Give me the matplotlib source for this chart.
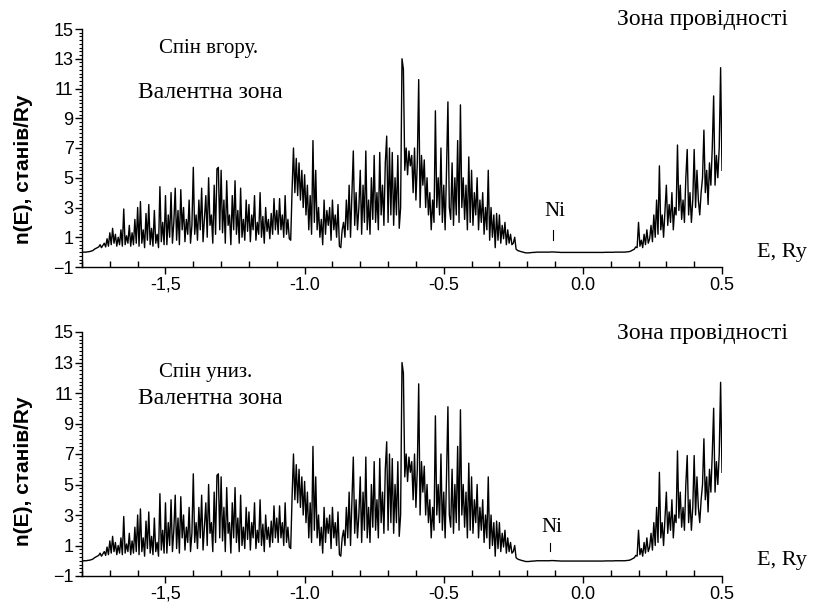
import numpy as np
import matplotlib
matplotlib.use("Agg")
import matplotlib.pyplot as plt
from matplotlib.ticker import MultipleLocator, FixedLocator

# density of states, 0.005 Ry steps from -1.8 to 0.5 Ry
dos_rows = [
    # -1.80
    [0.0, 0.0, 0.0, 0.0, 0.02, 0.03, 0.05, 0.08, 0.12, 0.2, 0.25, 0.3, 0.35, 0.5, 0.3, 0.45, 0.6, 0.35, 0.9, 0.4],
    # -1.70
    [1.3, 0.5, 1.6, 0.6, 1.2, 0.4, 1.0, 0.5, 1.5, 0.4, 2.9, 0.5, 1.1, 0.6, 1.8, 0.4, 1.3, 0.5, 2.2, 0.6],
    # -1.60
    [3.0, 0.4, 3.4, 0.6, 1.5, 0.3, 2.6, 0.8, 3.2, 0.5, 1.6, 0.4, 2.8, 0.6, 1.2, 0.3, 4.4, 0.7, 2.0, 0.5],
    # -1.50
    [3.8, 0.5, 2.5, 1.0, 4.0, 0.6, 2.0, 4.3, 0.8, 2.8, 0.5, 4.2, 1.5, 3.0, 0.7, 2.2, 1.2, 3.5, 0.6, 1.8],
    # -1.40
    [5.7, 1.2, 2.5, 0.8, 3.5, 1.5, 4.3, 0.7, 2.2, 3.8, 1.0, 5.0, 1.8, 2.5, 0.6, 4.5, 1.2, 5.6, 5.7, 1.5],
    # -1.30
    [5.5, 1.3, 3.5, 0.6, 4.8, 1.8, 2.5, 0.5, 3.8, 1.5, 4.8, 1.2, 2.8, 0.6, 4.3, 1.0, 2.2, 0.8, 3.5, 1.4],
    # -1.20
    [3.2, 0.7, 2.5, 1.5, 3.8, 0.8, 2.0, 1.2, 4.0, 1.0, 2.4, 0.6, 3.0, 1.4, 2.2, 0.9, 2.6, 1.2, 3.6, 1.5],
    # -1.10
    [2.8, 1.2, 3.6, 1.5, 2.5, 1.0, 3.8, 1.2, 2.2, 0.9, 0.8, 4.2, 7.0, 4.0, 6.3, 3.8, 6.0, 3.5, 5.5, 3.0],
    # -1.00
    [5.2, 2.5, 4.5, 1.5, 3.8, 1.2, 7.5, 2.0, 5.5, 1.5, 3.0, 1.0, 2.2, 0.5, 3.5, 1.2, 2.8, 1.8, 3.0, 0.8],
    # -0.90
    [3.5, 1.5, 2.5, 1.0, 3.2, 0.4, 0.3, 1.5, 2.0, 1.0, 3.5, 1.5, 4.5, 1.0, 3.8, 6.8, 1.8, 4.0, 1.5, 3.0],
    # -0.80
    [5.5, 1.2, 4.5, 2.0, 6.8, 1.5, 3.5, 1.2, 5.0, 2.2, 6.5, 2.0, 4.0, 1.5, 6.7, 2.5, 4.5, 1.8, 6.0, 7.8],
    # -0.70
    [2.0, 7.0, 2.5, 6.7, 1.8, 5.0, 2.5, 6.5, 1.6, 3.0, 13.0, 12.3, 5.5, 7.0, 5.2, 6.8, 5.8, 6.5, 4.0, 7.0],
    # -0.60
    [3.5, 6.0, 11.6, 3.0, 6.5, 4.5, 6.2, 3.0, 5.0, 2.5, 4.0, 1.5, 3.5, 2.0, 9.5, 3.0, 5.0, 2.5, 7.0, 2.0],
    # -0.50
    [4.5, 1.5, 5.5, 10.1, 3.0, 2.2, 6.0, 1.8, 5.0, 2.5, 7.5, 2.0, 9.9, 3.0, 5.0, 2.2, 4.5, 1.5, 6.4, 2.0],
    # -0.40
    [5.5, 1.8, 4.0, 2.5, 5.0, 1.5, 3.5, 2.0, 4.0, 1.2, 3.0, 1.5, 5.5, 0.8, 3.0, 1.0, 2.5, 0.3, 2.6, 0.8],
    # -0.30
    [2.5, 0.6, 1.8, 0.9, 2.0, 0.5, 1.5, 0.6, 1.2, 0.5, 0.6, 1.0, 0.2, 0.12, 0.08, 0.05, 0.02, 0.0, -0.03, -0.05],
    # -0.20
    [-0.05, -0.05, -0.04, -0.03, -0.02, -0.02, -0.01, 0.0, 0.0, 0.0, 0.0, 0.0, 0.0, 0.0, 0.0, 0.0, 0.0, 0.01, 0.01, 0.01],
    # -0.10
    [0.0, 0.0, -0.01, -0.01, -0.02, -0.02, -0.02, -0.02, -0.02, -0.02, -0.02, -0.02, -0.02, -0.02, -0.02, -0.02, -0.02, -0.02, -0.02, -0.02],
    # 0.00
    [-0.02, -0.02, -0.02, -0.02, -0.02, -0.02, -0.02, -0.02, -0.02, -0.02, -0.02, -0.02, -0.02, -0.02, -0.02, -0.02, -0.01, -0.01, -0.01, -0.01],
    # 0.10
    [-0.01, -0.01, -0.01, 0.0, 0.0, 0.0, 0.0, 0.0, 0.0, 0.0, 0.0, 0.01, 0.02, 0.03, 0.05, 0.1, 0.15, 0.2, 0.35, 0.3],
    # 0.20
    [2.0, 0.4, 0.8, 0.3, 1.2, 0.5, 1.5, 0.6, 0.9, 1.8, 0.7, 2.5, 1.0, 3.5, 1.2, 5.8, 1.5, 2.5, 1.0, 2.8],
    # 0.30
    [4.5, 1.8, 3.2, 2.0, 4.0, 1.5, 3.0, 2.5, 7.2, 2.8, 4.5, 2.2, 3.5, 2.0, 5.0, 6.9, 2.5, 4.0, 2.0, 3.5],
    # 0.40
    [6.9, 3.0, 5.5, 3.5, 2.5, 4.0, 5.0, 8.2, 4.0, 5.5, 3.2, 6.0, 4.5, 7.0, 10.5, 4.5, 6.5, 5.0, 7.0, 12.4],
]
dos_end_up = [5.5]

tail_down = [6.9, 3.0, 5.5, 3.5, 2.5, 4.0, 5.0, 8.0, 4.0, 5.5, 3.2, 6.0, 4.5, 7.0, 10.0, 4.5, 6.5, 5.0, 7.0, 11.7]
dos_end_down = [5.8]

dos_up = [v for row in dos_rows for v in row] + dos_end_up
dos_down = [v for row in dos_rows[:-1] for v in row] + tail_down + dos_end_down
energy = np.linspace(-1.8, 0.5, len(dos_up))

x_ticks = [-1.5, -1.0, -0.5, 0.0, 0.5]
x_labels = ["-1,5", "-1.0", "-0.5", "0.0", "0.5"]
y_ticks = [-1, 1, 3, 5, 7, 9, 11, 13, 15]

W, H = 813, 610
fig = plt.figure(figsize=(W / 100, H / 100), dpi=100)
serif = "Liberation Serif"
sans = "Liberation Sans"


def px_axes(left, top, right, bottom):
    return fig.add_axes([left / W, 1 - bottom / H, (right - left) / W, (bottom - top) / H])


def style(ax, values, label_y):
    ax.plot(energy, values, color="black", lw=1.0)
    ax.set_xlim(-1.8, 0.5)
    ax.set_ylim(-1, 15)
    for s in ("top", "right"):
        ax.spines[s].set_visible(False)
    ax.spines["left"].set_linewidth(1.0)
    ax.spines["bottom"].set_linewidth(1.0)
    ax.xaxis.set_major_locator(FixedLocator(x_ticks))
    ax.set_xticklabels(x_labels)
    ax.xaxis.set_minor_locator(MultipleLocator(0.1))
    ax.yaxis.set_major_locator(FixedLocator(y_ticks))
    ax.yaxis.set_minor_locator(MultipleLocator(0.25))
    ax.tick_params(axis="x", which="major", direction="out", length=5, width=1, labelsize=13, pad=2)
    ax.tick_params(axis="x", which="minor", direction="in", length=4, width=1)
    ax.tick_params(axis="y", which="major", direction="out", length=5, width=1, labelsize=13, pad=1)
    ax.tick_params(axis="y", which="minor", direction="out", length=2.5, width=0.8)
    for lab in ax.get_xticklabels() + ax.get_yticklabels():
        lab.set_family(sans)
    ax.set_ylabel("n(E), станів/Ry", family=sans, fontweight="bold", fontsize=15)
    ax.yaxis.set_label_coords(-0.077, label_y)


ax1 = px_axes(82, 29, 722, 267)
style(ax1, dos_up, 0.41)
ax2 = px_axes(82, 332, 722, 576)
style(ax2, dos_down, 0.43)


def ftext(x, y, s, size=16):
    fig.text(x / W, 1 - y / H, s, family=serif, fontsize=size, ha="center", va="center")


def fmark(x, y0, y1):
    fig.lines.append(plt.Line2D([x / W, x / W], [1 - y0 / H, 1 - y1 / H],
                                transform=fig.transFigure, color="black", lw=0.8))


ftext(209, 49, "Спін вгору.", 15)
ftext(210, 93, "Валентна зона", 17)
ftext(702, 19, "Зона провідності", 17)
ftext(555, 212, "Ni", 15)
ftext(782, 252, "E, Ry", 16)
fmark(553, 230, 240)

ftext(206, 372, "Спін униз.", 15)
ftext(210, 398, "Валентна зона", 17)
ftext(702, 333, "Зона провідності", 17)
ftext(552, 527, "Ni", 15)
ftext(782, 560, "E, Ry", 16)
fmark(550, 543, 551)

fig.savefig("out.png", dpi=100)
